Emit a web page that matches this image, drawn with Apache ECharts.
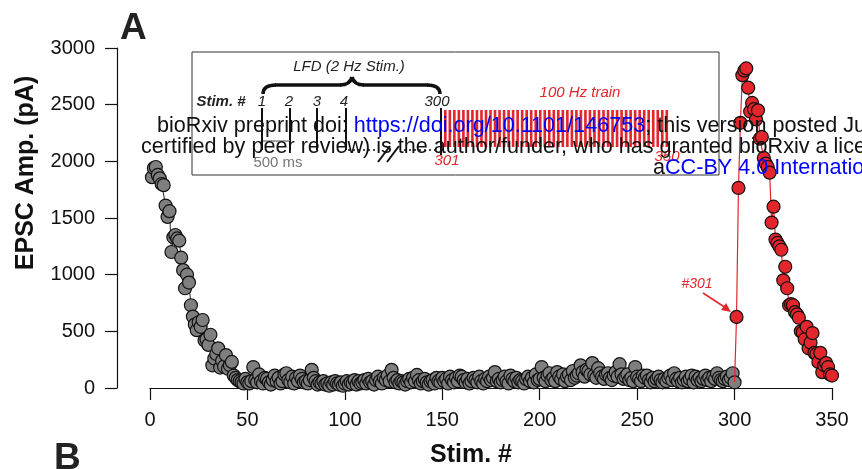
<!DOCTYPE html>
<html>
<head>
<meta charset="utf-8">
<style>
  html, body { margin: 0; padding: 0; background: #fff; }
  #chart { width: 862px; height: 469px; }
</style>
<script src="https://cdn.jsdelivr.net/npm/echarts@6/dist/echarts.min.js"></script>
</head>
<body>
<div id="chart"></div>
<script>
// EPSC amplitudes (pA) during 2 Hz low-frequency stimulation, stimuli 1-300
const lfdAmp = [
  1860, 1940, 1950, 1880, 1850, 1800, 1790, 1610, 1510, 1560,
  1200, 1330, 1350, 1320, 1300, 1150, 1040, 880, 1000, 930,
  730, 630, 560, 510, 580, 540, 600, 420, 430, 380,
  470, 200, 260, 300, 350, 180, 240, 190, 290, 170,
  200, 230, 110, 90, 70, 60, 50, 40, 80, 50,
  40, 60, 185, 70, 50, 120, 60, 40, 90, 80,
  50, 30, 70, 110, 60, 90, 40, 60, 120, 130,
  70, 50, 100, 40, 90, 60, 110, 80, 50, 60,
  40, 70, 160, 90, 60, 30, 50, 40, 60, 30,
  40, 20, 50, 30, 60, 40, 30, 50, 20, 40,
  60, 30, 50, 40, 70, 30, 60, 40, 50, 70,
  40, 80, 50, 60, 30, 70, 100, 60, 40, 90,
  70, 110, 60, 160, 90, 50, 70, 40, 60, 50,
  30, 60, 80, 50, 90, 60, 115, 70, 40, 60,
  80, 50, 30, 60, 70, 40, 90, 60, 50, 90,
  60, 80, 40, 100, 70, 50, 90, 60, 110, 100,
  70, 50, 80, 40, 60, 90, 70, 50, 100, 60,
  40, 80, 60, 100, 70, 90, 140, 60, 80, 50,
  70, 100, 60, 40, 110, 80, 60, 90, 50, 70,
  60, 40, 80, 100, 60, 90, 50, 120, 70, 80,
  185, 90, 60, 110, 130, 70, 90, 60, 140, 100,
  80, 120, 60, 100, 120, 70, 150, 90, 110, 130,
  200, 140, 100, 160, 150, 120, 220, 110, 90, 175,
  130, 100, 80, 120, 130, 90, 70, 110, 140, 100,
  210, 120, 80, 100, 120, 70, 90, 60, 185, 100,
  80, 60, 110, 90, 110, 70, 50, 90, 60, 80,
  100, 70, 50, 80, 60, 90, 110, 70, 130, 80,
  60, 90, 50, 70, 100, 60, 80, 110, 50, 100,
  70, 90, 60, 80, 110, 70, 90, 60, 100, 80,
  130, 90, 70, 60, 80, 100, 70, 90, 130, 50
];
const lfdFirstStim = 1;

// EPSC amplitudes (pA) during the 100 Hz train, stimuli 301-350
const trainAmp = [
  627, 1765, 2340, 2760, 2800, 2820, 2650, 2440, 2515, 2460,
  2370, 2450, 2200, 2215, 2030, 1980, 1950, 1900, 1460, 1600,
  1310, 1280, 1250, 1220, 950, 1070, 880, 730, 740, 730,
  670, 650, 620, 500, 490, 430, 540, 350, 400, 485,
  310, 300, 230, 310, 140, 200, 220, 185, 120, 110
];
const trainFirstStim = 301;

const xTicks = { min: 0, max: 350, step: 50 };
const yTicks = { min: 0, max: 3000, step: 500 };

const FONT = '"Liberation Sans", Arial, Helvetica, sans-serif';
const RED = '#e3262b';

const lfdData = lfdAmp.map((v, i) => [lfdFirstStim + i, v]);
const lastLfd = lfdData[lfdData.length - 1];
// the train trace starts from the last LFD response (drawn without a marker)
const trainData = [{ value: lastLfd, symbolSize: 0 }]
  .concat(trainAmp.map((v, i) => [trainFirstStim + i, v]));

// ---- inset schematic: stimulation protocol ----
const inset = [];
inset.push({ type: 'rect', shape: { x: 192, y: 52, width: 527, height: 123 },
  style: { fill: 'none', stroke: '#333', lineWidth: 1 } });

const txt = (x, y, s, font, fill) => ({ type: 'text', x, y,
  style: { text: s, font, fill, align: 'center', verticalAlign: 'middle' } });

inset.push(txt(349, 67, 'LFD (2 Hz Stim.)', 'italic 15px ' + FONT, '#222'));
inset.push(txt(221, 102, 'Stim. #', 'italic bold 15px ' + FONT, '#222'));
const stimLabels = ['1', '2', '3', '4', '300'];
const stimLabelX = [262, 289, 317, 344, 437];
stimLabels.forEach((s, i) => inset.push(txt(stimLabelX[i], 102, s, 'italic 15px ' + FONT, '#222')));

// curly brace over the LFD responses
const brace = [
  [263, 94, 263, 85, 276, 85],
  [340, 85, 350, 85, 352, 77],
  [352, 77, 354, 85, 364, 85],
  [427, 85, 440, 85, 440, 94]
];
brace.forEach(b => inset.push({ type: 'bezierCurve',
  shape: { x1: b[0], y1: b[1], cpx1: b[2], cpy1: b[3], x2: b[4], y2: b[5] },
  style: { stroke: '#111', lineWidth: 3.5, fill: 'none' } }));
inset.push({ type: 'line', shape: { x1: 275, y1: 85, x2: 341, y2: 85 }, style: { stroke: '#111', lineWidth: 3.5 } });
inset.push({ type: 'line', shape: { x1: 363, y1: 85, x2: 428, y2: 85 }, style: { stroke: '#111', lineWidth: 3.5 } });

// single LFD responses
[262, 290, 317, 346].forEach(x => inset.push({ type: 'line',
  shape: { x1: x, y1: 108, x2: x, y2: 150 }, style: { stroke: '#111', lineWidth: 2 } }));
inset.push({ type: 'line', shape: { x1: 441, y1: 108, x2: 441, y2: 155 }, style: { stroke: '#111', lineWidth: 2 } });

// dotted baseline with axis break
inset.push({ type: 'line', shape: { x1: 348, y1: 150, x2: 378, y2: 150 },
  style: { stroke: '#111', lineWidth: 1.5, lineDash: [2, 3] } });
inset.push({ type: 'line', shape: { x1: 404, y1: 150, x2: 438, y2: 150 },
  style: { stroke: '#111', lineWidth: 1.5, lineDash: [2, 3] } });
inset.push({ type: 'line', shape: { x1: 378, y1: 162, x2: 390, y2: 146 }, style: { stroke: '#111', lineWidth: 2 } });
inset.push({ type: 'line', shape: { x1: 387, y1: 162, x2: 399, y2: 146 }, style: { stroke: '#111', lineWidth: 2 } });

// 500 ms scale bar
inset.push({ type: 'line', shape: { x1: 263, y1: 141, x2: 290, y2: 141 }, style: { stroke: '#888', lineWidth: 1.5 } });
inset.push(txt(278, 163, '500 ms', '15px ' + FONT, '#777'));

// 100 Hz train responses
const trainCount = trainAmp.length;
const stripeX0 = 444, stripeX1 = 670;
const pitch = (stripeX1 - stripeX0) / trainCount;
for (let i = 0; i < trainCount; i++) {
  inset.push({ type: 'rect', shape: { x: stripeX0 + i * pitch, y: 110, width: pitch * 0.58, height: 37 },
    style: { fill: RED } });
}
inset.push(txt(580, 93, '100 Hz train', 'italic 15px ' + FONT, RED));
inset.push(txt(447, 161, '301', 'italic 15px ' + FONT, RED));
inset.push(txt(667, 157, '350', 'italic 15px ' + FONT, RED));

// "#301" annotation with arrow
const annot = [
  txt(697, 284, '#301', 'italic 14px ' + FONT, RED),
  { type: 'line', shape: { x1: 703, y1: 293, x2: 726, y2: 308 }, style: { stroke: RED, lineWidth: 1.5 } },
  { type: 'polygon', shape: { points: [[731, 312], [721, 310], [726, 303]] }, style: { fill: RED } }
];

// axis titles and panel letters
const titles = [
  { type: 'text', x: 26, y: 173, rotation: Math.PI / 2,
    style: { text: 'EPSC Amp. (pA)', font: 'bold 25px ' + FONT, fill: '#111', align: 'center', verticalAlign: 'middle' } },
  txt(471, 455, 'Stim. #', 'bold 25px ' + FONT, '#111'),
  { type: 'text', x: 120, y: 10, style: { text: 'A', font: 'bold 37px ' + FONT, fill: '#222', align: 'left', verticalAlign: 'top' } },
  { type: 'text', x: 54, y: 440, style: { text: 'B', font: 'bold 37px ' + FONT, fill: '#222', align: 'left', verticalAlign: 'top' } }
];

// preprint overlay text
const overlayFont = '21.6px ' + FONT;
const overlay = [
  { type: 'text', x: 157, y: 126, z: 200,
    style: { text: '{k|bioRxiv preprint doi: }{b|https://doi.org/10.1101/146753}{k|; this version posted Ju}',
      font: overlayFont, verticalAlign: 'middle',
      rich: { k: { fill: '#111', font: overlayFont }, b: { fill: '#0000ff', font: overlayFont } } } },
  { type: 'text', x: 141, y: 147, z: 200,
    style: { text: 'certified by peer review) is the author/funder, who has granted bioRxiv a license',
      font: overlayFont, fill: '#111', verticalAlign: 'middle' } },
  { type: 'text', x: 653, y: 168, z: 200,
    style: { text: '{k|a}{b|CC-BY 4.0 International}', font: overlayFont, verticalAlign: 'middle',
      rich: { k: { fill: '#111', font: overlayFont }, b: { fill: '#0000ff', font: overlayFont } } } }
];

const chart = echarts.init(document.getElementById('chart'));
chart.setOption({
  animation: false,
  backgroundColor: '#fff',
  grid: { left: 150, right: 30, top: 48, bottom: 81, containLabel: false },
  xAxis: {
    type: 'value', min: xTicks.min, max: xTicks.max, interval: xTicks.step,
    splitLine: { show: false },
    axisLine: { onZero: false, lineStyle: { color: '#111', width: 1.2 } },
    axisTick: { length: 12, lineStyle: { color: '#111', width: 1.2 } },
    axisLabel: { margin: 22, color: '#111', fontSize: 20, fontFamily: FONT, formatter: v => String(v) }
  },
  yAxis: {
    type: 'value', min: yTicks.min, max: yTicks.max, interval: yTicks.step, offset: 33,
    splitLine: { show: false },
    axisLine: { show: true, onZero: false, lineStyle: { color: '#111', width: 1.2 } },
    axisTick: { show: true, length: 12, lineStyle: { color: '#111', width: 1.2 } },
    axisLabel: { margin: 22, color: '#111', fontSize: 20, fontFamily: FONT, formatter: v => String(v) }
  },
  series: [
    {
      type: 'line', data: lfdData, symbol: 'circle', symbolSize: 13,
      itemStyle: { color: '#7f7f7f', borderColor: '#111', borderWidth: 1.2 },
      lineStyle: { color: '#222', width: 1 }, z: 3
    },
    {
      type: 'line', data: trainData, symbol: 'circle', symbolSize: 13,
      itemStyle: { color: RED, borderColor: '#111', borderWidth: 1.2 },
      lineStyle: { color: RED, width: 1.2 }, z: 4
    }
  ],
  graphic: [].concat(inset, annot, titles, overlay).map(e => Object.assign({ z: e.z || 100 }, e))
});
</script>
</body>
</html>
